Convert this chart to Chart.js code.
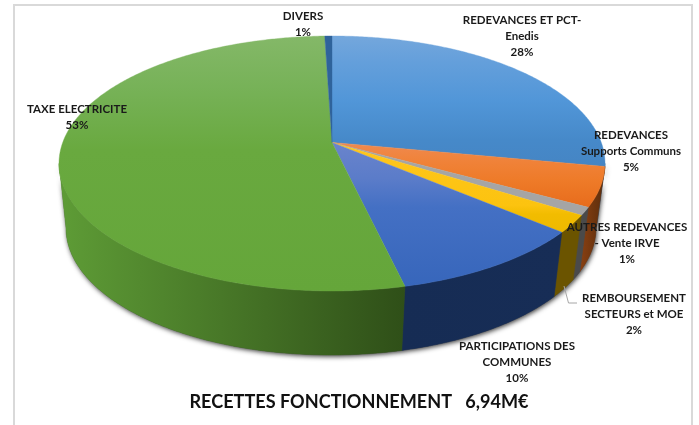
<!DOCTYPE html>
<html><head><meta charset="utf-8">
<style>html,body{margin:0;padding:0;background:#fff}canvas{display:block}</style>
<script src="https://cdn.jsdelivr.net/npm/chart.js@4"></script>
</head><body>
<canvas id="c" width="699" height="425"></canvas>
<script>
const categories = ["REDEVANCES ET PCT-Enedis","REDEVANCES Supports Communs","AUTRES REDEVANCES - Vente IRVE","REMBOURSEMENT SECTEURS et MOE","PARTICIPATIONS DES COMMUNES","TAXE ELECTRICITE","DIVERS"];
const seriesValues = [28, 5, 1, 2.2, 10.15, 53.15, 0.5];
const labelLines = [["REDEVANCES ET PCT-","Enedis"],["REDEVANCES","Supports Communs"],["AUTRES REDEVANCES","- Vente IRVE"],["REMBOURSEMENT","SECTEURS et MOE"],["PARTICIPATIONS DES","COMMUNES"],["TAXE ELECTRICITE"],["DIVERS"]];
const titleText = "RECETTES FONCTIONNEMENT   6,94M€";

const labelAnchors = [[522,20],[631,135],[627,227],[634,298],[517,346],[77,109],[303,16]];
const topStops = [
  [[0,"#74a7dc"],[.2,"#649fdb"],[.5,"#5196d8"],[.8,"#4689c9"],[1,"#4585c4"]],
  [[0,"#ef8a50"],[.3,"#f08238"],[.6,"#ee7a28"],[1,"#e76c1c"]],
  [[0,"#a5a5a5"],[1,"#a5a5a5"]],
  [[0,"#ffc61e"],[.7,"#fcc30f"],[.8,"#f2bc00"],[1,"#eeb900"]],
  [[0,"#6a84cc"],[.25,"#5b7cc9"],[.45,"#4470c4"],[1,"#3766bb"]],
  [[0,"#84b868"],[.2,"#77b258"],[.45,"#69a93f"],[1,"#65a63a"]],
  [[0,"#2f639b"],[1,"#2f639b"]]
];
const wallColors = [["#2a5d8c","#2a5d8c"],["#8a4012","#5a2d0c"],["#4a4a4a","#4a4a4a"],["#6b5400","#6b5400"],["#162c54","#172d56"],["#5e9c36","#2f4f18"],["#1c3c5c","#1c3c5c"]];
const topEllipse = {cx:332,cy:163.5,rx:273,ry:127.5};
const baseEllipse = {cx:331,cy:228,rx:265,ry:127};
const apexShift = -0.165;

function proj(t,e){
  const k=apexShift,u=Math.sin(t),v=-Math.cos(t),d=1+k*v;
  return [e.cx+e.rx*u*Math.sqrt(1-k*k)/d, e.cy+e.ry*(v+k)/d];
}
function arcPts(a,b,e){
  const n=Math.max(2,Math.ceil((b-a)/0.01)),p=[];
  for(let i=0;i<=n;i++)p.push(proj(a+(b-a)*i/n,e));
  return p;
}
function trace(ctx,pts){ctx.beginPath();pts.forEach((p,i)=>i?ctx.lineTo(p[0],p[1]):ctx.moveTo(p[0],p[1]));ctx.closePath();}

const pie3d = {
  id:"pie3d",
  beforeDraw(chart){
    const ctx=chart.ctx;
    ctx.save();ctx.strokeStyle="#d9d9d9";ctx.lineWidth=2;
    ctx.beginPath();ctx.moveTo(14,425);ctx.lineTo(14,5);ctx.lineTo(692,5);ctx.lineTo(692,425);ctx.stroke();ctx.restore();
  },
  beforeDatasetsDraw(chart){
    const ctx=chart.ctx,arcs=chart.getDatasetMeta(0).data;
    const angles=arcs.map(a=>{const q=a.getProps(["startAngle","endAngle"],true);return [q.startAngle+Math.PI/2,q.endAngle+Math.PI/2];});
    ctx.save();
    const lo=Math.acos(apexShift),hi=2*Math.PI-lo;
    // shadow under the drum
    ctx.save();
    ctx.shadowColor="rgba(0,0,0,.8)";ctx.shadowBlur=5;ctx.shadowOffsetX=1;ctx.shadowOffsetY=1.5;
    ctx.fillStyle="#444";
    trace(ctx,arcPts(lo,hi,topEllipse).concat(arcPts(lo,hi,baseEllipse).reverse()));
    ctx.fill();
    ctx.restore();
    // side walls
    angles.forEach((ang,i)=>{
      const a=Math.max(ang[0],lo),b=Math.min(ang[1],hi);
      if(b<=a)return;
      const t=arcPts(a,b,topEllipse),m=arcPts(a,b,baseEllipse);
      const xs=t.concat(m).map(p=>p[0]);
      const g=ctx.createLinearGradient(Math.min(...xs),0,Math.max(...xs),0);
      const c=wallColors[i];
      g.addColorStop(0,c[0]);g.addColorStop(1,c[1]);
      ctx.fillStyle=g;ctx.strokeStyle=g;ctx.lineWidth=.5;
      trace(ctx,t.concat(m.reverse()));ctx.fill();ctx.stroke();
    });
    // top face
    angles.forEach((ang,i)=>{
      const centre=[topEllipse.cx,topEllipse.cy+topEllipse.ry*apexShift];
      const pts=[centre].concat(arcPts(ang[0],ang[1],topEllipse));
      const ys=pts.map(p=>p[1]);
      const g=ctx.createLinearGradient(0,Math.min(...ys),0,Math.max(...ys));
      topStops[i].forEach(s=>g.addColorStop(s[0],s[1]));
      ctx.fillStyle=g;ctx.strokeStyle=g;ctx.lineWidth=.4;
      trace(ctx,pts);ctx.fill();ctx.stroke();
    });
    ctx.restore();
    return false;
  },
  afterDraw(chart){
    const ctx=chart.ctx;
    ctx.save();
    ctx.strokeStyle="#a6a6a6";ctx.lineWidth=1;
    ctx.beginPath();ctx.moveTo(564,286);ctx.lineTo(568.5,303);ctx.lineTo(577,303);ctx.stroke();
    ctx.fillStyle="#1a1a1a";ctx.textAlign="center";ctx.textBaseline="middle";
    ctx.font='bold 11.5px Lato';
    labelLines.forEach((lines,i)=>{
      const [x,y]=labelAnchors[i];
      const all=lines.concat([Math.round(seriesValues[i])+"%"]);
      all.forEach((s,j)=>ctx.fillText(s,x,y+j*16));
    });
    ctx.fillStyle="#111";
    ctx.font='bold 18.1px Lato';
    ctx.fillText(titleText,359,402);
    ctx.restore();
  }
};

new Chart(document.getElementById("c"),{
  type:"pie",
  data:{labels:categories,datasets:[{data:seriesValues,borderWidth:0}]},
  options:{responsive:false,animation:false,rotation:0,
    plugins:{legend:{display:false},tooltip:{enabled:false}}},
  plugins:[pie3d]
});
</script>
</body></html>
